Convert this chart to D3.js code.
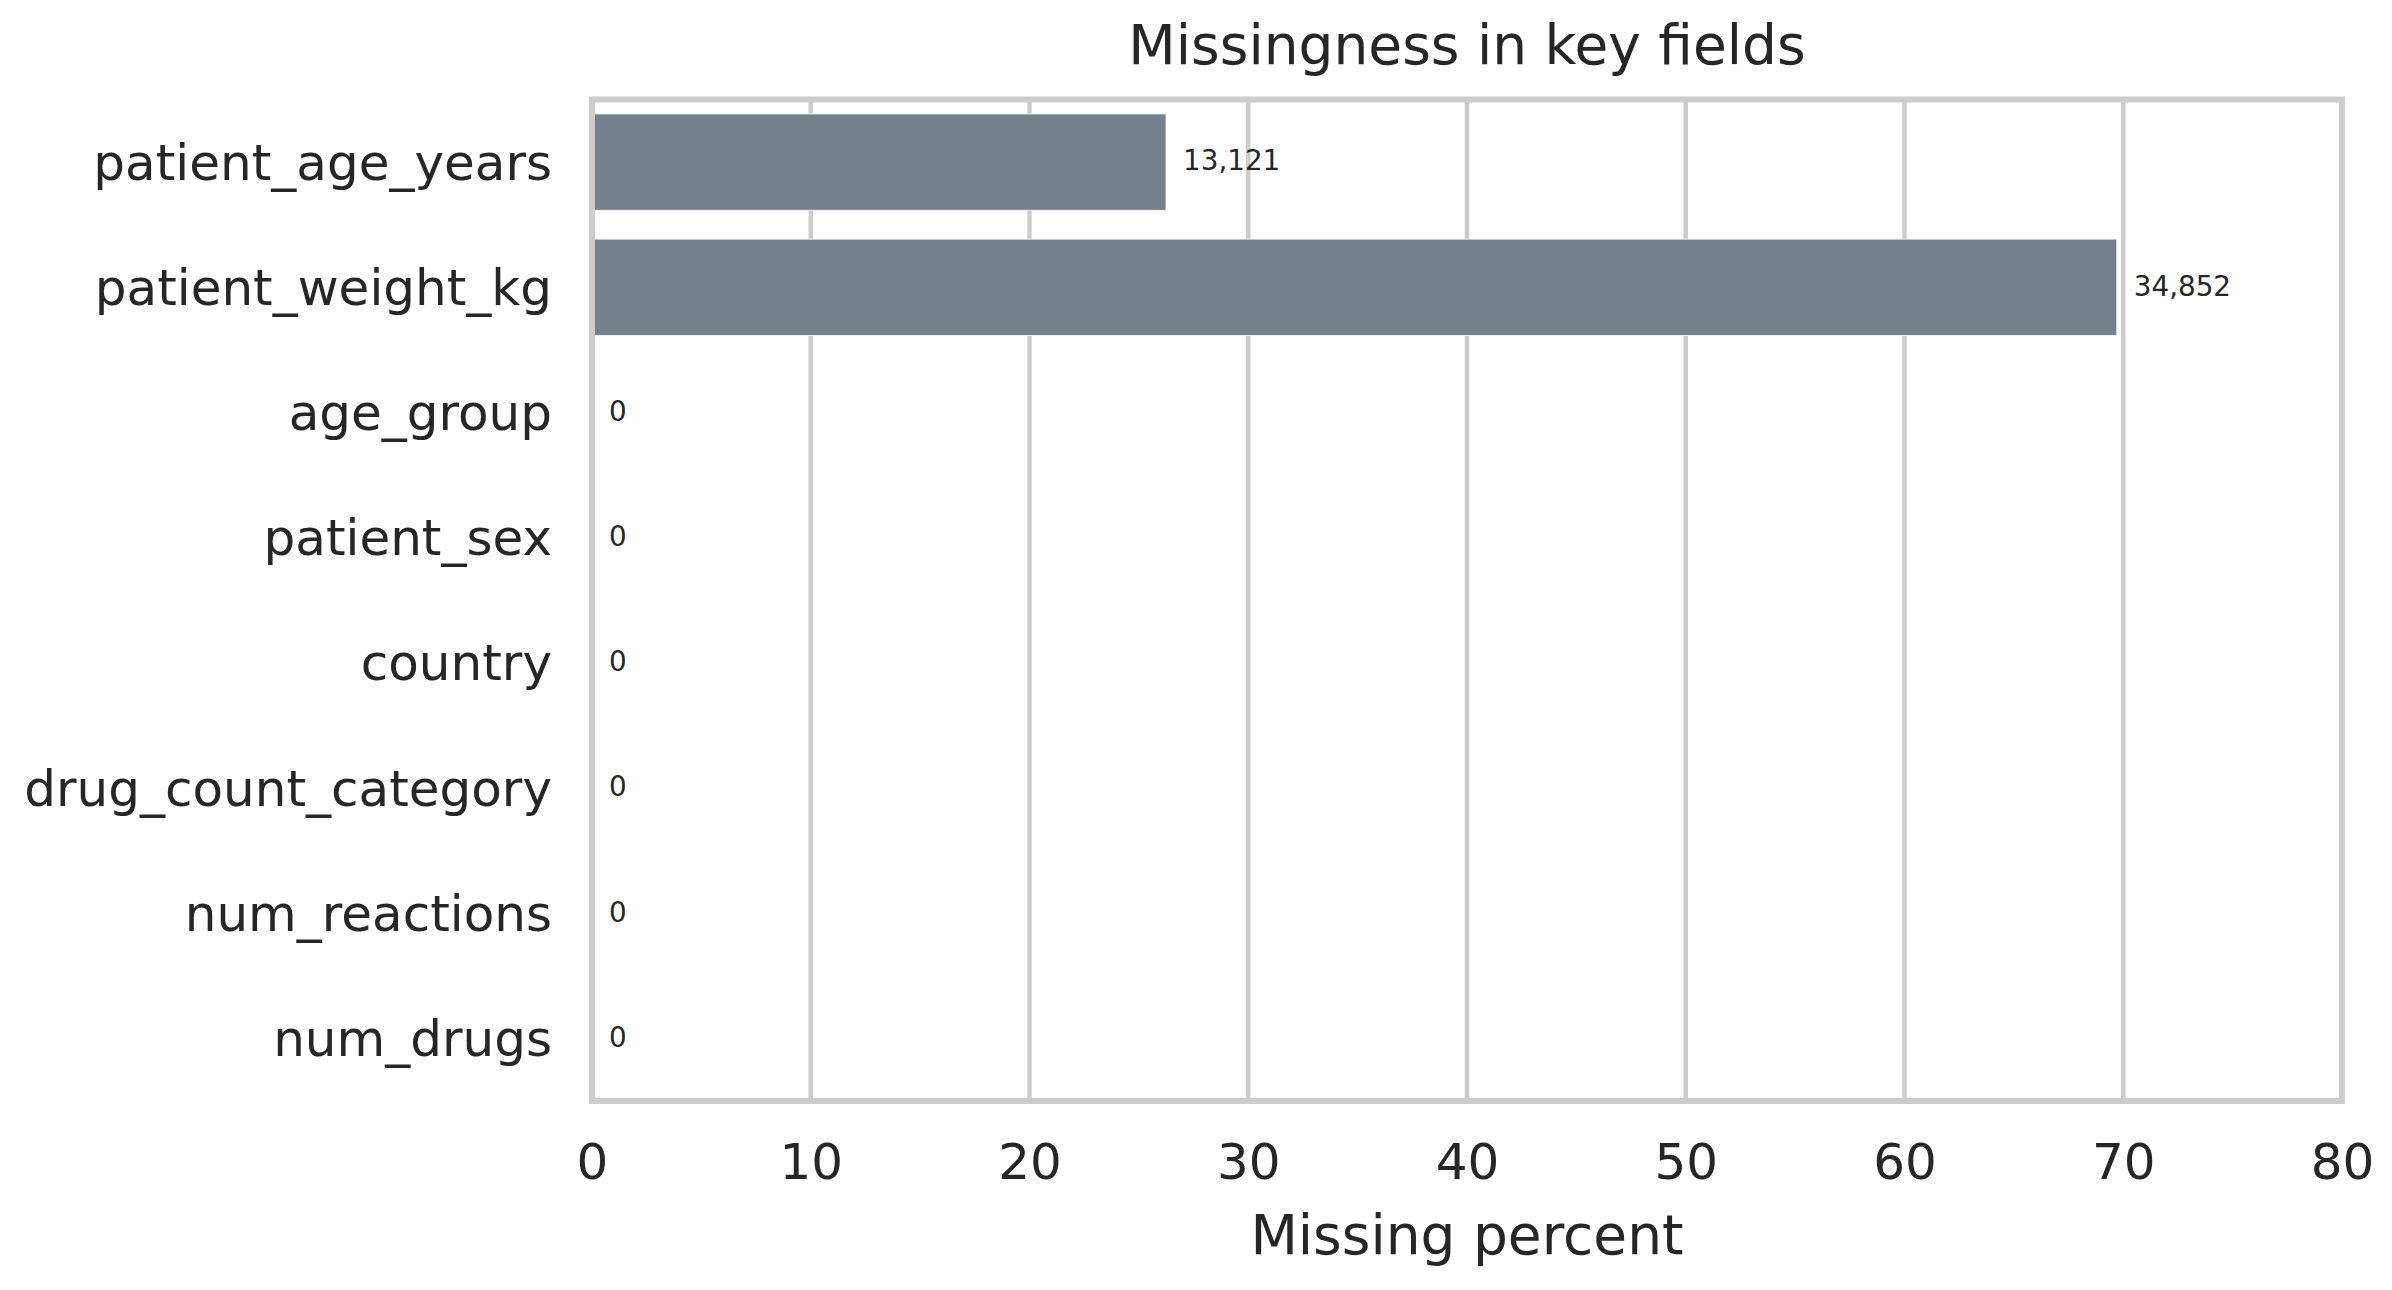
<!DOCTYPE html>
<html>
<head>
<meta charset="utf-8">
<script src="https://cdn.jsdelivr.net/npm/d3@7"></script>
<style>
  html, body { margin: 0; padding: 0; background: #ffffff; }
  svg { display: block; }
  text { font-family: "DejaVu Sans", sans-serif; fill: #262626; }
</style>
</head>
<body>
<script>
// ---- data ----
const categories = ["patient_age_years", "patient_weight_kg", "age_group", "patient_sex",
                    "country", "drug_count_category", "num_reactions", "num_drugs"];
const missingPercent = [26.242, 69.704, 0, 0, 0, 0, 0, 0];
const missingCount = [13121, 34852, 0, 0, 0, 0, 0, 0];
const xTicks = [0, 10, 20, 30, 40, 50, 60, 70, 80];
const titleText = "Missingness in key fields";
const xLabelText = "Missing percent";

// ---- layout ----
const W = 2392, H = 1290;
const margin = { left: 592, right: W - 2342, top: 99.5, bottom: H - 1101 };
const iw = W - margin.left - margin.right;
const ih = H - margin.top - margin.bottom;

const svg = d3.select("body").append("svg").attr("width", W).attr("height", H);
const g = svg.append("g").attr("transform", `translate(${margin.left},${margin.top})`);

const x = d3.scaleLinear().domain([0, 80]).range([0, iw]);
const y = d3.scaleBand().domain(categories).range([0, ih]).paddingInner(0.23).paddingOuter(0.115);

// grid
g.append("g").selectAll("line").data(xTicks).join("line")
  .attr("x1", d => x(d)).attr("x2", d => x(d))
  .attr("y1", 0).attr("y2", ih)
  .attr("stroke", "#cccccc").attr("stroke-width", 4.4);

// bars
const rows = categories.map((c, i) => ({ c, p: missingPercent[i], n: missingCount[i] }));
g.append("g").selectAll("rect").data(rows).join("rect")
  .attr("x", x(0))
  .attr("y", d => y(d.c))
  .attr("width", d => x(d.p) - x(0))
  .attr("height", y.bandwidth())
  .attr("fill", "#74808c")
  .attr("stroke", d => d.p > 0 ? "#eef0f3" : "none")
  .attr("stroke-width", 1);

// value labels
const fmt = d3.format(",");
g.append("g").selectAll("text").data(rows).join("text")
  .attr("x", d => x(d.p) + 17)
  .attr("y", d => y(d.c) + y.bandwidth() / 2)
  .attr("dy", "0.3em")
  .attr("font-size", 27.8)
  .text(d => fmt(d.n));

// spines
g.append("rect")
  .attr("x", 0).attr("y", 0).attr("width", iw).attr("height", ih)
  .attr("fill", "none").attr("stroke", "#cccccc").attr("stroke-width", 6);

// x axis
const xAxis = d3.axisBottom(x).tickValues(xTicks).tickSize(0).tickPadding(0).tickFormat(d3.format("d"));
const xa = g.append("g").attr("transform", `translate(0,${ih})`).call(xAxis);
xa.select(".domain").remove();
xa.selectAll("text").attr("y", 78).attr("dy", null).attr("font-size", 50)
  .attr("font-family", "DejaVu Sans").attr("fill", "#262626");

// y axis
const yAxis = d3.axisLeft(y).tickSize(0).tickPadding(40);
const ya = g.append("g").call(yAxis);
ya.select(".domain").remove();
ya.selectAll("text").attr("font-size", 50).attr("dy", "0.35em")
  .attr("font-family", "DejaVu Sans").attr("fill", "#262626");

// title
svg.append("text")
  .attr("x", margin.left + iw / 2).attr("y", 64)
  .attr("text-anchor", "middle").attr("font-size", 55)
  .text(titleText);

// x label
svg.append("text")
  .attr("x", margin.left + iw / 2).attr("y", 1254)
  .attr("text-anchor", "middle").attr("font-size", 55)
  .text(xLabelText);
</script>
</body>
</html>
